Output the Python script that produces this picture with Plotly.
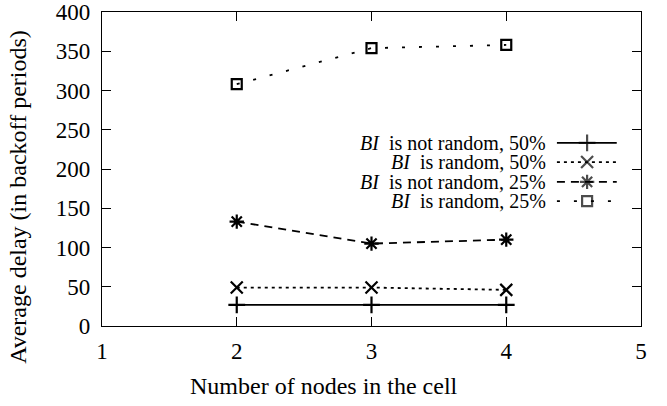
import plotly.graph_objects as go

nodes = [2, 3, 4]
not_random_50 = [27, 27, 27]
random_50 = [49, 49, 46]
not_random_25 = [133, 105, 110]
random_25 = [308, 354, 358]

series_names = [
    "<i>BI</i>  is not random, 50%",
    "<i>BI</i>  is random, 50%",
    "<i>BI</i>  is not random, 25%",
    "<i>BI</i>  is random, 25%",
]
series_values = [not_random_50, random_50, not_random_25, random_25]
symbols = ["cross-thin-open", "x-thin-open", "asterisk-open", "square-open"]
dashes = ["solid", "3px,4px", "8px,6px", "3px,14px"]
msizes = [12, 12, 12, 10]

FONT = "Liberation Serif"

fig = go.Figure()
for name, vals, sym, dsh, ms in zip(series_names, series_values, symbols, dashes, msizes):
    fig.add_trace(go.Scatter(
        x=nodes, y=vals, mode="lines+markers", name=name, showlegend=False,
        line=dict(color="black", width=1.8, dash=dsh),
        marker=dict(symbol=sym, size=ms, color="black", line=dict(color="black", width=2.2)),
    ))

# legend samples (gnuplot style: text right-aligned, sample to the right)
legend_rows = [0.583, 0.522, 0.459, 0.398]
for name, sym, dsh, ms, yy in zip(series_names, symbols, dashes, msizes, legend_rows):
    fig.add_trace(go.Scatter(
        x=[0.844, 0.9, 0.955], y=[yy, yy, yy], xaxis="x2", yaxis="y2",
        mode="lines+markers", showlegend=False, hoverinfo="skip",
        line=dict(color="black", width=1.8, dash=dsh),
        marker=dict(symbol=sym, size=[0, ms, 0], color="black", line=dict(color="black", width=2.2)),
    ))
    fig.add_annotation(
        x=0.826, y=yy, xref="x2", yref="y2", text=name, showarrow=False,
        xanchor="right", yanchor="middle", font=dict(family=FONT, size=20, color="black"),
        borderpad=0,
    )

# axis titles (centered on the canvas, as in the reference)
fig.add_annotation(x=0.412, y=-0.191, xref="paper", yref="paper", yanchor="middle",
                   text="Number of nodes in the cell", showarrow=False,
                   font=dict(family=FONT, size=24, color="black"))
fig.add_annotation(x=-0.156, y=0.411, xref="paper", yref="paper", textangle=-90,
                   xanchor="center", yanchor="middle",
                   text="Average delay (in backoff periods)", showarrow=False,
                   font=dict(family=FONT, size=24, color="black"))

axis_common = dict(
    showline=True, linecolor="black", linewidth=1.2, mirror="allticks",
    ticks="inside", ticklen=9, tickcolor="black", tickwidth=1,
    showgrid=False, zeroline=False, automargin=False, ticklabeloverflow="allow",
    tickfont=dict(family=FONT, size=23, color="black"),
)

fig.update_layout(
    width=667, height=406,
    margin=dict(l=102, r=26, t=12, b=80, autoexpand=False),
    plot_bgcolor="white", paper_bgcolor="white",
    xaxis=dict(range=[1, 5], tickvals=[1, 2, 3, 4, 5], ticklabelstandoff=4, **axis_common),
    yaxis=dict(range=[0, 400], tickvals=[0, 50, 100, 150, 200, 250, 300, 350, 400], ticklabelstandoff=6,
               **axis_common),
    xaxis2=dict(range=[0, 1], overlaying="x", visible=False),
    yaxis2=dict(range=[0, 1], overlaying="y", visible=False),
)

fig.write_html("out.html", config={"displayModeBar": False},
               post_script="document.body.style.margin='0';")
